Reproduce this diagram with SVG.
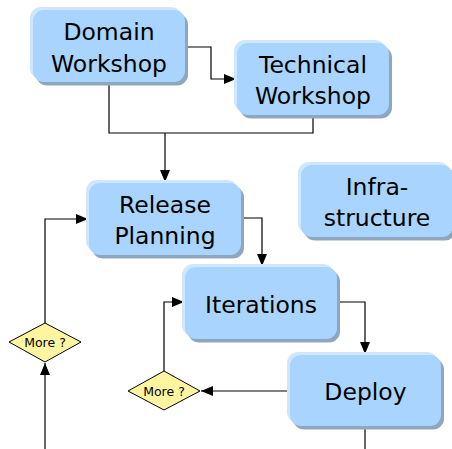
<svg xmlns="http://www.w3.org/2000/svg" width="452" height="449" viewBox="0 0 452 449">
<defs>
<style>
.hl{fill:#cfe7fc}
.sh{fill:#8fa7be}
.bx{fill:#a8d4fd}
.t{font-family:"DejaVu Sans",Verdana,sans-serif;font-size:23.5px;fill:#000;text-anchor:middle}
.d{fill:#fff5a0;stroke:#000;stroke-width:1}
.dt{font-family:"DejaVu Sans",Verdana,sans-serif;font-size:12.5px;fill:#000;text-anchor:middle}
.c{fill:none;stroke:#000;stroke-width:1.2}
</style>
<marker id="ah" viewBox="0 0 12 10" refX="12" refY="5" markerWidth="12" markerHeight="10" markerUnits="userSpaceOnUse" orient="auto">
<path d="M0,0 L12,5 L0,10 z" fill="#000"/>
</marker>
</defs>
<g id="connectors">
<path class="c" d="M185,47 H211 V79 H236" marker-end="url(#ah)"/>
<path class="c" d="M109,82 V133 H313 V115"/>
<path class="c" d="M165,133 V182" marker-end="url(#ah)"/>
<path class="c" d="M241,218 H262 V266" marker-end="url(#ah)"/>
<path class="c" d="M45,323 V219 H88" marker-end="url(#ah)"/>
<path class="c" d="M45,449 V363" marker-end="url(#ah)"/>
<path class="c" d="M337,302 H365 V354" marker-end="url(#ah)"/>
<path class="c" d="M290,391 H201" marker-end="url(#ah)"/>
<path class="c" d="M164,371 V302 H184" marker-end="url(#ah)"/>
<path class="c" d="M365,426 V449"/>
</g>
<g id="domain-workshop">
<rect class="hl" x="30" y="7" width="152" height="72" rx="11"/>
<rect class="sh" x="36" y="13.5" width="152" height="72" rx="11"/>
<rect class="bx" x="33" y="10" width="152" height="72" rx="11"/>
<text class="t" x="109" y="40">Domain</text>
<text class="t" x="109" y="71.5">Workshop</text>
</g>
<g id="technical-workshop">
<rect class="hl" x="234" y="40" width="152" height="72" rx="11"/>
<rect class="sh" x="240" y="46.5" width="152" height="72" rx="11"/>
<rect class="bx" x="237" y="43" width="152" height="72" rx="11"/>
<text class="t" x="313" y="73">Technical</text>
<text class="t" x="313" y="103.5">Workshop</text>
</g>
<g id="release-planning">
<rect class="hl" x="86" y="180" width="152" height="72" rx="11"/>
<rect class="sh" x="92" y="186.5" width="152" height="72" rx="11"/>
<rect class="bx" x="89" y="183" width="152" height="72" rx="11"/>
<text class="t" x="165" y="213">Release</text>
<text class="t" x="165" y="243.5">Planning</text>
</g>
<g id="infrastructure">
<rect class="hl" x="298" y="162" width="152" height="72" rx="11"/>
<rect class="sh" x="304" y="168.5" width="152" height="72" rx="11"/>
<rect class="bx" x="301" y="165" width="152" height="72" rx="11"/>
<text class="t" x="377" y="195">Infra-</text>
<text class="t" x="377" y="226">structure</text>
</g>
<g id="iterations">
<rect class="hl" x="182" y="264" width="152" height="72" rx="11"/>
<rect class="sh" x="188" y="270.5" width="152" height="72" rx="11"/>
<rect class="bx" x="185" y="267" width="152" height="72" rx="11"/>
<text class="t" x="261" y="312.5">Iterations</text>
</g>
<g id="deploy">
<rect class="hl" x="287" y="352" width="151" height="71" rx="11"/>
<rect class="sh" x="293" y="358.5" width="151" height="71" rx="11"/>
<rect class="bx" x="290" y="355" width="151" height="71" rx="11"/>
<text class="t" x="365.5" y="400">Deploy</text>
</g>
<g id="more-inner">
<polygon class="d" points="164,371 200,391 164,410 128,391"/>
<text class="dt" x="164" y="395.5">More ?</text>
</g>
<g id="more-outer">
<polygon class="d" points="45,323 81,342 45,362 9,342"/>
<text class="dt" x="45" y="346.5">More ?</text>
</g>
</svg>
